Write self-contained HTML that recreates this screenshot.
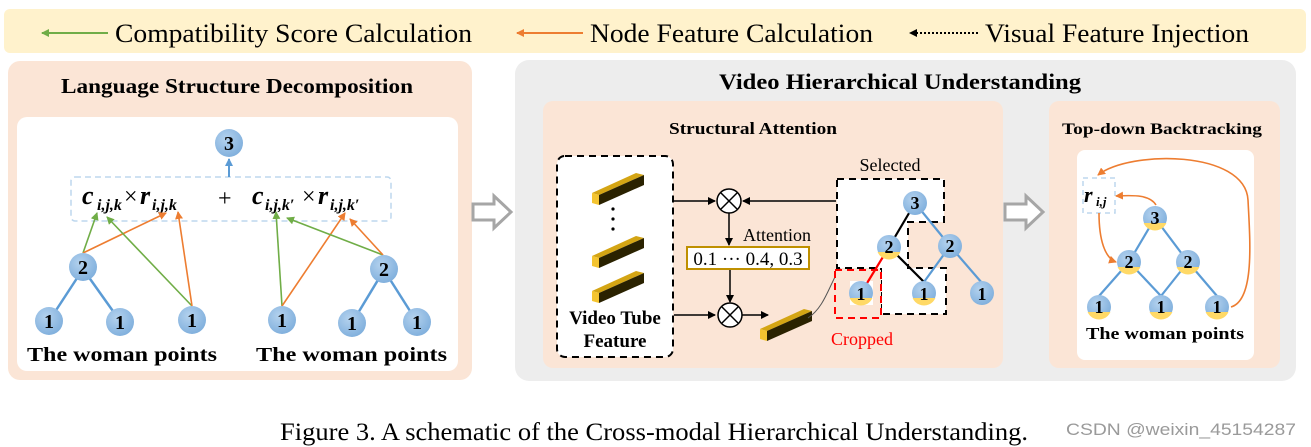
<!DOCTYPE html>
<html><head><meta charset="utf-8"><style>
html,body{margin:0;padding:0;background:#fff;}
svg{display:block;font-family:"Liberation Serif",serif;}
</style></head><body>
<svg width="1311" height="447" viewBox="0 0 1311 447" xmlns="http://www.w3.org/2000/svg">
<defs>
<marker id="ag" markerWidth="8" markerHeight="8" refX="7" refY="4" orient="auto" markerUnits="userSpaceOnUse"><path d="M0,0 L8,4 L0,8 z" fill="#70ad47"/></marker>
<marker id="ao" markerWidth="8" markerHeight="8" refX="7" refY="4" orient="auto" markerUnits="userSpaceOnUse"><path d="M0,0 L8,4 L0,8 z" fill="#ed7d31"/></marker>
<marker id="ab" markerWidth="8" markerHeight="8" refX="7" refY="4" orient="auto" markerUnits="userSpaceOnUse"><path d="M0,0 L8,4 L0,8 z" fill="#5b9bd5"/></marker>
<marker id="ak" markerWidth="8" markerHeight="8" refX="7" refY="4" orient="auto" markerUnits="userSpaceOnUse"><path d="M0,0 L8,4 L0,8 z" fill="#000"/></marker>
<marker id="agr" markerWidth="7" markerHeight="7" refX="6" refY="3.5" orient="auto" markerUnits="userSpaceOnUse"><path d="M0,0 L7,3.5 L0,7 z" fill="#555"/></marker>
<radialGradient id="nb" cx="0.4" cy="0.35" r="0.7"><stop offset="0" stop-color="#b4d2ee"/><stop offset="1" stop-color="#7eaedc"/></radialGradient>
<clipPath id="cl"><circle cx="0" cy="0" r="12.5"/></clipPath>
<g id="bar">
<polygon points="0,0 44,-20 52,-18 7,2" fill="#d4a514"/>
<polygon points="7,2 52,-18 52,-8 7,12" fill="#2a2200"/>
<polygon points="0,0 7,2 7,12 0,10" fill="#f4c430"/>
</g>
</defs>

<!-- legend band -->
<rect x="4" y="9" width="1302" height="44" rx="6" fill="#fff2cc"/>
<line x1="108" y1="33" x2="42" y2="33" stroke="#70ad47" stroke-width="2" marker-end="url(#ag)"/>
<text x="115" y="42" font-size="26" textLength="357" lengthAdjust="spacingAndGlyphs">Compatibility Score Calculation</text>
<line x1="583" y1="33" x2="517" y2="33" stroke="#ed7d31" stroke-width="2" marker-end="url(#ao)"/>
<text x="590" y="42" font-size="26" textLength="283" lengthAdjust="spacingAndGlyphs">Node Feature Calculation</text>
<line x1="978" y1="33" x2="910" y2="33" stroke="#000" stroke-width="2" stroke-dasharray="2,2" marker-end="url(#ak)"/>
<text x="985" y="42" font-size="26" textLength="264" lengthAdjust="spacingAndGlyphs">Visual Feature Injection</text>

<!-- Left panel -->
<rect x="8" y="61" width="464" height="319" rx="12" fill="#fbe5d6"/>
<text x="237" y="93" font-size="21" font-weight="bold" text-anchor="middle" textLength="352" lengthAdjust="spacingAndGlyphs">Language Structure Decomposition</text>
<rect x="17" y="117" width="441" height="254" rx="10" fill="#fff"/>
<rect x="71" y="177" width="320" height="44" rx="4" fill="none" stroke="#bdd7ee" stroke-width="1.5" stroke-dasharray="6,4"/>
<line x1="229" y1="177" x2="229" y2="159" stroke="#5b9bd5" stroke-width="2" marker-end="url(#ab)"/>
<g font-weight="bold" font-style="italic">
<text x="82" y="204" font-size="26">c</text><text x="97" y="210" font-size="16">i,j,k</text>
<text x="124" y="204" font-size="24" font-style="normal" font-weight="normal">×</text>
<text x="140" y="204" font-size="26">r</text><text x="152" y="210" font-size="16">i,j,k</text>
<text x="218" y="206" font-size="24" font-style="normal" font-weight="normal">+</text>
<text x="252" y="204" font-size="26">c</text><text x="265" y="210" font-size="16">i,j,k′</text>
<text x="302" y="204" font-size="24" font-style="normal" font-weight="normal">×</text>
<text x="318" y="204" font-size="26">r</text><text x="330" y="210" font-size="16">i,j,k′</text>
</g>
<!-- left tree edges -->
<g stroke="#5b9bd5" stroke-width="2.5">
<line x1="83" y1="269" x2="49" y2="321"/><line x1="83" y1="269" x2="120" y2="321"/>
<line x1="384" y1="270" x2="352" y2="323"/><line x1="384" y1="270" x2="417" y2="322"/>
</g>
<g stroke-width="1.6" fill="none">
<line x1="83" y1="253" x2="97" y2="213" stroke="#70ad47" marker-end="url(#ag)"/>
<line x1="83" y1="253" x2="166" y2="213" stroke="#ed7d31" marker-end="url(#ao)"/>
<line x1="192" y1="306" x2="107" y2="217" stroke="#70ad47" marker-end="url(#ag)"/>
<line x1="192" y1="306" x2="178" y2="212" stroke="#ed7d31" marker-end="url(#ao)"/>
<line x1="282" y1="306" x2="276" y2="212" stroke="#70ad47" marker-end="url(#ag)"/>
<line x1="282" y1="306" x2="345" y2="213" stroke="#ed7d31" marker-end="url(#ao)"/>
<line x1="383" y1="255" x2="287" y2="218" stroke="#70ad47" marker-end="url(#ag)"/>
<line x1="383" y1="255" x2="350" y2="219" stroke="#ed7d31" marker-end="url(#ao)"/>
</g>
<g font-weight="bold" font-size="20" text-anchor="middle">
<circle cx="229" cy="143" r="14" fill="url(#nb)"/><text x="229" y="150">3</text>
<circle cx="83" cy="267" r="14" fill="url(#nb)"/><text x="83" y="274">2</text>
<circle cx="49" cy="321" r="14" fill="url(#nb)"/><text x="49" y="328">1</text>
<circle cx="120" cy="322" r="14" fill="url(#nb)"/><text x="120" y="329">1</text>
<circle cx="192" cy="320" r="14" fill="url(#nb)"/><text x="192" y="327">1</text>
<circle cx="282" cy="320" r="14" fill="url(#nb)"/><text x="282" y="327">1</text>
<circle cx="384" cy="269" r="14" fill="url(#nb)"/><text x="384" y="276">2</text>
<circle cx="352" cy="323" r="14" fill="url(#nb)"/><text x="352" y="330">1</text>
<circle cx="417" cy="322" r="14" fill="url(#nb)"/><text x="417" y="329">1</text>
</g>
<g font-weight="bold" font-size="20">
<text x="27" y="361" textLength="190" lengthAdjust="spacingAndGlyphs">The woman  points</text>
<text x="256" y="361" textLength="191" lengthAdjust="spacingAndGlyphs">The woman  points</text>
</g>

<!-- hollow arrow 1 -->
<path d="M473,204 H494 V196 L511,212 L494,228 V220 H473 Z" fill="#fff" stroke="#a6a6a6" stroke-width="3"/>

<!-- middle gray panel -->
<rect x="515" y="60" width="781" height="321" rx="14" fill="#ededed"/>
<text x="900" y="89" font-size="22" font-weight="bold" text-anchor="middle" textLength="362" lengthAdjust="spacingAndGlyphs">Video Hierarchical Understanding</text>
<rect x="543" y="101" width="460" height="267" rx="10" fill="#fbe5d6"/>
<text x="753" y="134" font-size="17" font-weight="bold" text-anchor="middle" textLength="168" lengthAdjust="spacingAndGlyphs">Structural Attention</text>

<rect x="557" y="156" width="116" height="201" rx="8" fill="#fff" stroke="#000" stroke-width="2" stroke-dasharray="7,5"/>
<use href="#bar" x="592" y="193"/>
<circle cx="613" cy="209" r="1.6"/><circle cx="613" cy="219" r="1.6"/><circle cx="613" cy="229" r="1.6"/>
<use href="#bar" x="592" y="256"/>
<use href="#bar" x="592" y="291"/>
<text x="615" y="324" font-size="19" font-weight="bold" text-anchor="middle">Video Tube</text>
<text x="615" y="347" font-size="19" font-weight="bold" text-anchor="middle">Feature</text>

<g stroke="#000" stroke-width="1.5" fill="none">
<line x1="673" y1="201" x2="715" y2="201" marker-end="url(#ak)"/>
<line x1="836" y1="201" x2="743" y2="201" marker-end="url(#ak)"/>
<line x1="729" y1="213" x2="729" y2="245" marker-end="url(#ak)"/>
<line x1="730" y1="269" x2="730" y2="302" marker-end="url(#ak)"/>
<line x1="674" y1="315" x2="715" y2="315" marker-end="url(#ak)"/>
<line x1="742" y1="315" x2="768" y2="315" marker-end="url(#ak)"/>
<circle cx="729" cy="201" r="12" fill="#fff"/>
<line x1="721" y1="193" x2="737" y2="209"/><line x1="737" y1="193" x2="721" y2="209"/>
<circle cx="730" cy="315" r="12" fill="#fff"/>
<line x1="722" y1="307" x2="738" y2="323"/><line x1="738" y1="307" x2="722" y2="323"/>
</g>
<text x="777" y="241" font-size="18" text-anchor="middle">Attention</text>
<rect x="687" y="247" width="122" height="22" fill="#fff" stroke="#bf9000" stroke-width="2"/>
<text x="748" y="265" font-size="19" text-anchor="middle">0.1 ··· 0.4, 0.3</text>
<use href="#bar" x="760" y="329"/>
<path d="M808,318 C835,300 830,255 868,250" fill="none" stroke="#555" stroke-width="1" marker-end="url(#agr)"/>

<text x="890" y="171" font-size="18" text-anchor="middle">Selected</text>
<polygon points="837,179 944,179 944,222 908,222 908,268 946,268 946,314 881,314 881,268 837,268" fill="#fff" stroke="#000" stroke-width="2" stroke-dasharray="7,5"/>
<rect x="835" y="270" width="46" height="48" fill="#fbe5d6" stroke="#ff0000" stroke-width="2" stroke-dasharray="7,5"/>
<rect x="850" y="281" width="23" height="24" fill="#fff"/>
<text x="862" y="345" font-size="18" fill="#ff0000" text-anchor="middle">Cropped</text>
<g stroke-width="2.2">
<line x1="915" y1="203" x2="889" y2="247" stroke="#000"/>
<line x1="915" y1="203" x2="950" y2="246" stroke="#5b9bd5"/>
<line x1="889" y1="247" x2="861" y2="293" stroke="#ff0000"/>
<line x1="889" y1="247" x2="924" y2="282" stroke="#000"/>
<line x1="950" y1="246" x2="924" y2="282" stroke="#5b9bd5"/>
<line x1="950" y1="246" x2="982" y2="283" stroke="#5b9bd5"/>
</g>
<g font-weight="bold" font-size="18" text-anchor="middle">
<circle cx="915" cy="203" r="12" fill="url(#nb)"/><text x="915" y="209">3</text>
<g transform="translate(889,247)"><circle r="12" fill="url(#nb)"/><rect x="-13" y="5" width="26" height="10" fill="#ffd966" clip-path="url(#cl)"/><text y="6">2</text></g>
<circle cx="950" cy="246" r="12" fill="url(#nb)"/><text x="950" y="252">2</text>
<g transform="translate(861,293)"><circle r="12" fill="url(#nb)"/><rect x="-13" y="5" width="26" height="10" fill="#ffd966" clip-path="url(#cl)"/><text y="7">1</text></g>
<g transform="translate(924,293)"><circle r="12" fill="url(#nb)"/><rect x="-13" y="5" width="26" height="10" fill="#ffd966" clip-path="url(#cl)"/><text y="7">1</text></g>
<circle cx="982" cy="293" r="12" fill="url(#nb)"/><text x="982" y="300">1</text>
</g>

<!-- hollow arrow 2 -->
<path d="M1005,204 H1026 V196 L1043,212 L1026,228 V220 H1005 Z" fill="#fff" stroke="#a6a6a6" stroke-width="3"/>

<!-- right panel -->
<rect x="1049" y="101" width="231" height="267" rx="10" fill="#fbe5d6"/>
<text x="1162" y="134" font-size="16" font-weight="bold" text-anchor="middle" textLength="200" lengthAdjust="spacingAndGlyphs">Top-down Backtracking</text>
<rect x="1077" y="150" width="177" height="210" rx="8" fill="#fff"/>
<rect x="1083" y="178" width="32" height="35" fill="none" stroke="#bdd7ee" stroke-width="1.5" stroke-dasharray="5,4"/>
<text x="1084" y="202" font-size="22" font-weight="bold" font-style="italic">r</text>
<text x="1096" y="206" font-size="13" font-weight="bold" font-style="italic">i,j</text>
<g stroke="#5b9bd5" stroke-width="2.2">
<line x1="1155" y1="218" x2="1129" y2="262"/><line x1="1155" y1="218" x2="1188" y2="262"/>
<line x1="1129" y1="262" x2="1099" y2="296"/><line x1="1129" y1="262" x2="1161" y2="296"/>
<line x1="1188" y1="262" x2="1161" y2="296"/><line x1="1188" y1="262" x2="1217" y2="296"/>
</g>
<g stroke="#ed7d31" stroke-width="1.6" fill="none">
<path d="M1156,205 C1150,195 1135,195 1116,196" marker-end="url(#ao)"/>
<path d="M1099,213 C1099,240 1105,258 1116,262" marker-end="url(#ao)"/>
<path d="M1231,307 C1255,300 1250,240 1248,200 C1245,150 1130,150 1098,175" marker-end="url(#ao)"/>
</g>
<g font-weight="bold" font-size="18" text-anchor="middle">
<g transform="translate(1155,218)"><circle r="12" fill="url(#nb)"/><rect x="-13" y="5" width="26" height="10" fill="#ffd966" clip-path="url(#cl)"/><text y="6">3</text></g>
<g transform="translate(1129,262)"><circle r="12" fill="url(#nb)"/><rect x="-13" y="5" width="26" height="10" fill="#ffd966" clip-path="url(#cl)"/><text y="6">2</text></g>
<g transform="translate(1188,262)"><circle r="12" fill="url(#nb)"/><rect x="-13" y="5" width="26" height="10" fill="#ffd966" clip-path="url(#cl)"/><text y="6">2</text></g>
<g transform="translate(1099,307)"><circle r="12" fill="url(#nb)"/><rect x="-13" y="5" width="26" height="10" fill="#ffd966" clip-path="url(#cl)"/><text y="6">1</text></g>
<g transform="translate(1161,307)"><circle r="12" fill="url(#nb)"/><rect x="-13" y="5" width="26" height="10" fill="#ffd966" clip-path="url(#cl)"/><text y="6">1</text></g>
<g transform="translate(1217,307)"><circle r="12" fill="url(#nb)"/><rect x="-13" y="5" width="26" height="10" fill="#ffd966" clip-path="url(#cl)"/><text y="6">1</text></g>
</g>
<text x="1086" y="339" font-size="17" font-weight="bold" textLength="158" lengthAdjust="spacingAndGlyphs">The woman  points</text>

<!-- caption -->
<text x="280" y="440" font-size="25" textLength="748" lengthAdjust="spacingAndGlyphs">Figure 3. A schematic of the Cross-modal Hierarchical Understanding.</text>
<text x="1066" y="435" font-size="17" fill="#9a9a9a" font-family="Liberation Sans, sans-serif" textLength="230" lengthAdjust="spacingAndGlyphs">CSDN @weixin_45154287</text>
</svg>
</body></html>
